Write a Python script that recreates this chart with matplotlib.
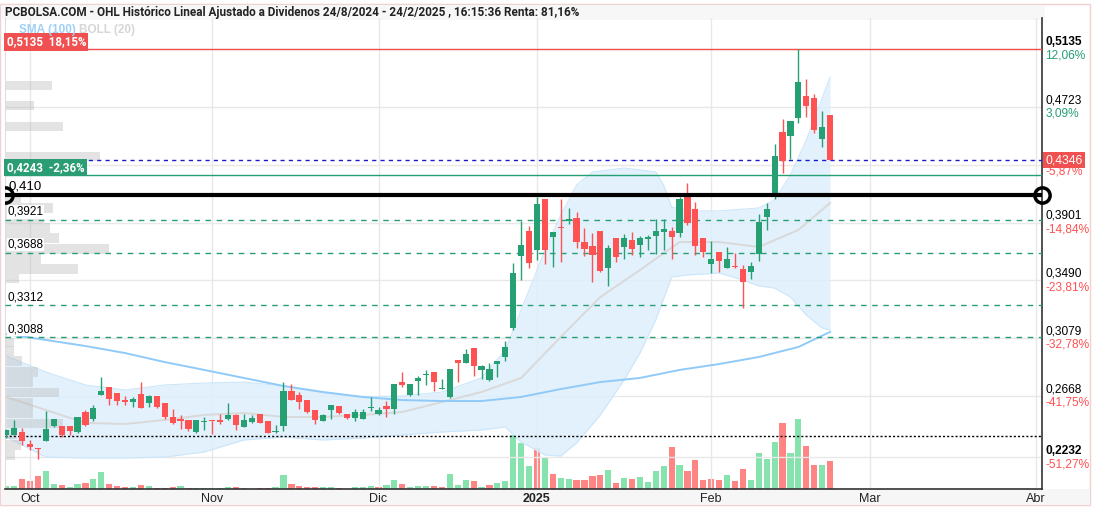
import numpy as np
import pandas as pd
import matplotlib
matplotlib.use("Agg")
import matplotlib.pyplot as plt
from matplotlib.patches import Rectangle
import matplotlib.transforms as mtransforms

plt.rcParams['font.family'] = ['Liberation Sans', 'DejaVu Sans']

# ---- data ----
holidays = ['2024-12-25', '2024-12-26', '2025-01-01']
opens = [
    .2392, .2392, .2413, .2328, .2299, .2351, .2456, .2456, .2456, .2413,
    .2555, .2503, .2674, .2730, .2693, .2640, .2629, .2683, .2621, .2669,
    .2619, .2517, .2501, .2498, .2413, .2486, .2496, .2501, .2503, .2534,
    .2451, .2486, .2539, .2491, .2410, .2456, .2707, .2676, .2640, .2569,
    .2494, .2569, .2598, .2541, .2512, .2508, .2586, .2541, .2598, .2579,
    .2768, .2674, .2778, .2816, .2839, .2721, .2659, .2922, .2901, .3010,
    .2854, .2783, .2896, .2948, .3154, .3664, .3841, .3706, .4069, .3801,
    .3868, .3915, .3934, .3763, .3737, .3841, .3581, .3792, .3730, .3777,
    .3744, .3787, .3808, .3837, .3844, .3830, .4085, .3998, .3792, .3609,
    .3695, .3581, .3593, .3571, .3552, .3678, .3943, .4086, .4545, .4517,
    .4645, .4801, .4787, .4498, .4666]
highs = [
    .2432, .2498, .2439, .2356, .2299, .2565, .2505, .2456, .2456, .2517,
    .2569, .2602, .2801, .2730, .2693, .2669, .2664, .2768, .2674, .2669,
    .2619, .2576, .2534, .2498, .2498, .2517, .2498, .2541, .2617, .2539,
    .2539, .2534, .2539, .2491, .2463, .2768, .2754, .2700, .2640, .2569,
    .2541, .2602, .2598, .2541, .2579, .2579, .2664, .2593, .2636, .2754,
    .2839, .2754, .2811, .2854, .2839, .2792, .2858, .2922, .3000, .3010,
    .2892, .2906, .2920, .3062, .3616, .3915, .3877, .4085, .4069, .3834,
    .4067, .4003, .3977, .3863, .3830, .3841, .3740, .3792, .3820, .3837,
    .3806, .3811, .3924, .3924, .3868, .4085, .4180, .4048, .3792, .3770,
    .3695, .3725, .3683, .3600, .3621, .3962, .4038, .4460, .4638, .4623,
    .5135, .4920, .4815, .4694, .4666]
lows = [
    .2368, .2390, .2321, .2285, .2219, .2349, .2451, .2380, .2392, .2408,
    .2456, .2494, .2674, .2605, .2605, .2605, .2588, .2584, .2588, .2581,
    .2505, .2467, .2437, .2420, .2403, .2427, .2399, .2470, .2498, .2427,
    .2446, .2479, .2479, .2403, .2403, .2422, .2640, .2574, .2550, .2467,
    .2489, .2503, .2541, .2503, .2494, .2503, .2565, .2536, .2517, .2541,
    .2735, .2669, .2674, .2747, .2707, .2721, .2655, .2768, .2901, .2811,
    .2792, .2773, .2806, .2920, .3138, .3493, .3581, .3635, .3605, .3583,
    .3621, .3891, .3718, .3664, .3477, .3552, .3451, .3621, .3645, .3669,
    .3654, .3706, .3678, .3706, .3640, .3801, .3884, .3669, .3654, .3541,
    .3552, .3576, .3576, .3292, .3498, .3626, .3849, .4067, .4256, .4351,
    .4612, .4654, .4540, .4436, .4346]
closes = [
    .2427, .2444, .2351, .2304, .2290, .2437, .2505, .2392, .2422, .2517,
    .2463, .2584, .2704, .2650, .2636, .2629, .2650, .2584, .2669, .2588,
    .2517, .2479, .2494, .2432, .2498, .2489, .2489, .2486, .2534, .2463,
    .2498, .2512, .2479, .2408, .2413, .2707, .2640, .2626, .2555, .2498,
    .2534, .2602, .2546, .2512, .2555, .2555, .2593, .2569, .2579, .2754,
    .2747, .2754, .2797, .2820, .2768, .2726, .2858, .2901, .2970, .2882,
    .2882, .2861, .2920, .3019, .3541, .3742, .3612, .4033, .3706, .3834,
    .3863, .3924, .3766, .3711, .3669, .3560, .3721, .3659, .3789, .3711,
    .3789, .3799, .3841, .3856, .3801, .4069, .3901, .3737, .3695, .3642,
    .3631, .3642, .3583, .3481, .3593, .3905, .3998, .4375, .4337, .4623,
    .4901, .4732, .4559, .4581, .4346]
# volumen (miles de titulos)
volume = [
    27, 27, 103, 77, 133, 183, 53, 43, 17, 53,
    63, 103, 173, 53, 27, 17, 20, 43, 33, 10,
    10, 17, 33, 10, 10, 10, 10, 10, 23, 17,
    10, 3, 10, 10, 23, 143, 53, 27, 23, 17,
    17, 23, 10, 3, 17, 17, 33, 17, 43, 93,
    53, 17, 33, 33, 33, 17, 153, 43, 93, 83,
    23, 43, 63, 80, 540, 457, 230, 407, 307, 147,
    107, 97, 87, 87, 127, 137, 187, 57, 107, 97,
    117, 67, 177, 227, 417, 237, 177, 287, 87, 97,
    87, 137, 77, 197, 87, 357, 297, 467, 657, 357,
    697, 427, 237, 237, 277]
volume_dir = ("ggrrrggrgg" "rggrrrgrgr" "rrgrgggggr" "ggrrggrrrr" "ggrrgggrgg"
              "rgggrrgggr" "grgggggrgr" "ggrrrrgrgr" "ggggrgrrrr"
              "rgrrggggrg" "grrgr")

boll_idx = [0, 5, 10, 15, 20, 25, 30, 35, 40, 45, 50, 55, 60, 63, 65, 68, 70, 72, 74,
            78, 82, 83, 84, 86, 90, 95, 97, 99, 101, 103, 104]
boll_up = [.2953, .2839, .2747, .2711, .2747, .2761, .2768, .2740, .2690, .2662, .2669,
           .2697, .2797, .2996, .3280, .3706, .3955, .4168, .4261, .4289, .4261, .4168,
           .4012, .3984, .3984, .4005, .4062, .4240, .4488, .4787, .4936]
low_idx = [0, 5, 10, 15, 20, 25, 30, 35, 40, 45, 50, 55, 60, 63, 65, 68, 70, 72, 75,
           78, 80, 82, 84, 86, 90, 93, 95, 97, 99, 101, 103, 104]
boll_low = [.2377, .2235, .2228, .2228, .2235, .2271, .2356, .2377, .2356, .2370, .2392,
            .2413, .2427, .2448, .2342, .2249, .2242, .2335, .2534, .2783, .2974, .3209,
            .3515, .3529, .3543, .3493, .3451, .3436, .3372, .3244, .3152, .3138]
mid_idx = [0, 5, 10, 15, 20, 25, 30, 35, 40, 45, 50, 55, 60, 65, 70, 75, 80, 85, 90,
           95, 100, 104]
boll_mid = [.2662, .2569, .2477, .2470, .2498, .2534, .2548, .2520, .2520, .2534, .2555,
            .2626, .2697, .2797, .3088, .3372, .3564, .3763, .3763, .3728, .3849, .4041]
sma100 = [.3109, .3067, .3024, .2974, .2910, .2854, .2797, .2740, .2697, .2662, .2640,
          .2633, .2633, .2662, .2718, .2768, .2797, .2854, .2896, .2946, .3017, .3124]

profile_price = [.4876, .4733, .4584, .4371, .4076, .4005, .3934, .3863, .3792, .3714,
                 .3643, .3571, .3504, .3049, .2989, .2918, .2839, .2768, .2694, .2619,
                 .2548, .2473, .2395, .2320, .2249]
profile_vol = [47, 29, 58, 95, 16, 48, 39, 45, 54, 104, 36, 73, 14, 9, 9, 17, 33, 28,
               54, 28, 28, 58, 12, 16, 10]

level_prices = [.3921, .3688, .3312, .3088]
level_labels = ['0,3921', '0,3688', '0,3312', '0,3088']
resist = .410
dotted_level = .2384
last_price = .4346
high_price = .5135
low_box_price = .4243

right_ticks = [.5135, .4723, .4312, .3901, .3490, .3079, .2668, .2232]
right_vals = ['0,5135', '0,4723', '', '0,3901', '0,3490', '0,3079', '0,2668', '0,2232']
right_pcts = ['12,06%', '3,09%', '-5,87%', '-14,84%', '-23,81%', '-32,78%', '-41,75%', '-51,27%']

month_starts = ['2024-10-01', '2024-11-01', '2024-12-01', '2025-01-01', '2025-02-01',
                '2025-03-01', '2025-04-01']
month_labels = ['Oct', 'Nov', 'Dic', '2025', 'Feb', 'Mar', 'Abr']

title = ("PCBOLSA.COM - OHL Histórico Lineal Ajustado a Dividenos 24/8/2024 - 24/2/2025 , "
         "16:15:36 Renta: 81,16%")

# ---- colours ----
GREEN = '#26a073'
RED = '#ff5252'
VGREEN = '#86e3ae'
VRED = '#ff8585'

days = pd.bdate_range('2024-09-26', '2025-04-04', freq='C', holidays=holidays)
tick_pos = [int(np.argmax(days >= pd.Timestamp(m))) for m in month_starts]

o = np.array(opens); h = np.array(highs); l = np.array(lows); c = np.array(closes)
x = np.arange(len(o))
up = c >= o

W, H = 1096, 512
fig = plt.figure(figsize=(W / 100, H / 100), dpi=100)
fig.patch.set_facecolor('white')

def fx(px):
    return px / W

def fy(py):
    return 1 - py / H

# outer frame, title bar, date strip
fig.patches.append(Rectangle((fx(0), fy(505)), fx(1090), 501 / H, transform=fig.transFigure,
                             fill=False, edgecolor='#f0d0d0', lw=1))
fig.patches.append(Rectangle((fx(1), fy(20)), fx(1044), 15 / H, transform=fig.transFigure,
                             facecolor='#f7f7f7', edgecolor='none'))
fig.patches.append(Rectangle((fx(1), fy(504)), fx(1089), 15 / H, transform=fig.transFigure,
                             facecolor='#f6f6f6', edgecolor='none'))
fig.text(fx(5), fy(12.5), title, fontsize=8.45, fontweight='bold', color='#222222',
         va='center', ha='left', family='Roboto')

ax = fig.add_axes([fx(5), fy(489), fx(1037), (489 - 18) / H])
axv = ax.twinx()
ax.set_zorder(2)
axv.set_zorder(1)
ax.patch.set_visible(False)
axv.patch.set_facecolor('white')

ymin, ymax = 0.20078, 0.53553
ax.set_ylim(ymin, ymax)
ax.set_xlim(-0.16, 130.76)

# volume
vcol = [VGREEN if d == 'g' else VRED for d in volume_dir]
axv.bar(x, volume, width=0.78, color=vcol, linewidth=0)
axv.set_ylim(0, max(volume) * 471 / 69.7)
axv.set_yticks([])
for s in axv.spines.values():
    s.set_visible(False)

# grid
for p in tick_pos:
    ax.axvline(p, color='#e8e8e8', lw=1, zorder=0)
for t in right_ticks:
    ax.axhline(t, color='#e8e8e8', lw=1, zorder=0)

# bollinger + sma
ub = np.interp(x, boll_idx, boll_up)
lb = np.interp(x, low_idx, boll_low)
ax.fill_between(x, lb, ub, color='#ddeffc', alpha=0.85, lw=0, zorder=1)
ax.plot(x, ub, color='#cce6fa', lw=0.8, zorder=1)
ax.plot(x, lb, color='#cce6fa', lw=0.8, zorder=1)
ax.plot(mid_idx, boll_mid, color='#d9d9d9', lw=1.4, zorder=2)
ax.plot(mid_idx, sma100, color='#90caf9', lw=1.4, zorder=2)

# volume profile
px_per_unit = 130.92 / 1037
ax.barh(profile_price, np.array(profile_vol) * px_per_unit, height=0.0066, left=-0.16,
        color='#bdbdbd', alpha=0.42, lw=0, zorder=2)

# levels
for p, lab in zip(level_prices, level_labels):
    ax.axhline(p, color=GREEN, lw=1, ls=(0, (4, 4)), zorder=3)
    ax.text(0.15, p + 0.0014, lab, fontsize=8.5, color='black', va='bottom', ha='left',
            zorder=6, bbox=dict(facecolor='white', edgecolor='none', pad=0.5))
ax.axhline(dotted_level, color='black', lw=1, ls=(0, (1.5, 1.5)), zorder=3)
ax.axhline(high_price, color='#f05050', lw=1, zorder=3)
ax.axhline(low_box_price, color=GREEN, lw=1, zorder=3)
ax.axhline(last_price, color='#1a1acc', lw=1, ls=(0, (3, 3)), zorder=3)

# candles
colors = np.where(up, GREEN, RED)
ax.vlines(x, l, h, colors=colors, lw=1, zorder=4)
body = np.maximum(np.abs(c - o), 0.0008)
ax.bar(x, body, bottom=np.minimum(o, c), width=0.78, color=colors, lw=0, zorder=5)

# resistance line
ax.axhline(resist, color='black', lw=3, zorder=6)
ax.plot([-0.16], [resist], 'o', ms=11, mfc='none', mec='black', mew=2.5, zorder=7)
ax.plot([130.76], [resist], 'o', ms=11, mfc='none', mec='black', mew=2.5, zorder=7,
        clip_on=False)
ax.text(0.3, resist + 0.0012, '0,410', fontsize=9.5, color='black', va='bottom', ha='left',
        zorder=8)

# left price boxes
ax.text(0.05, high_price + 0.0004, '0,5135  18,15%', fontsize=8.4, color='white',
        va='bottom', ha='left', zorder=9, family='Roboto', fontweight='bold',
        bbox=dict(facecolor='#f05050', edgecolor='none', pad=1.6))
ax.text(0.05, low_box_price + 0.0004, '0,4243  -2,36%', fontsize=8.4, color='white',
        va='bottom', ha='left', zorder=9, family='Roboto', fontweight='bold',
        bbox=dict(facecolor='#2a9d74', edgecolor='none', pad=1.6))

# indicator legend
fig.text(fx(19), fy(30), 'SMA (100)', fontsize=8.5, fontweight='bold', color='#9fd0f7',
         va='center')
fig.text(fx(79), fy(30), 'BOLL (20)', fontsize=8.5, fontweight='bold', color='#d6d6d6',
         va='center')

# right axis labels
trans = mtransforms.blended_transform_factory(ax.transAxes, ax.transData)
for t, v, p in zip(right_ticks, right_vals, right_pcts):
    if v:
        ax.text(1.003, t + 0.0005, v, transform=trans, fontsize=8.6, color='black',
                va='bottom', ha='left', clip_on=False,
                fontweight='bold' if t in (high_price, .2232) else 'normal')
    ax.text(1.003, t - 0.0004, p, transform=trans, fontsize=8.6,
            color=GREEN if not p.startswith('-') else RED, va='top', ha='left',
            clip_on=False)
ax.text(1.003, last_price, '0,4346', transform=trans, fontsize=8.8, color='white',
        va='center', ha='left', clip_on=False, zorder=10,
        bbox=dict(facecolor='#f05050', edgecolor='none', pad=1.8))

# axes styling
ax.set_yticks([])
ax.set_xticks(tick_pos)
ax.set_xticklabels(month_labels, fontsize=9, color='#222222')
for lab in ax.get_xticklabels():
    if lab.get_text() == '2025':
        lab.set_fontweight('bold')
ax.tick_params(axis='x', length=0, pad=3)
ax.spines['top'].set_visible(False)
ax.spines['left'].set_color('#dddddd')
ax.spines['right'].set_color('#333333')
ax.spines['bottom'].set_color('#333333')
ax.spines['right'].set_linewidth(1.2)
ax.spines['bottom'].set_linewidth(1.2)

fig.savefig('out.png', dpi=100)
